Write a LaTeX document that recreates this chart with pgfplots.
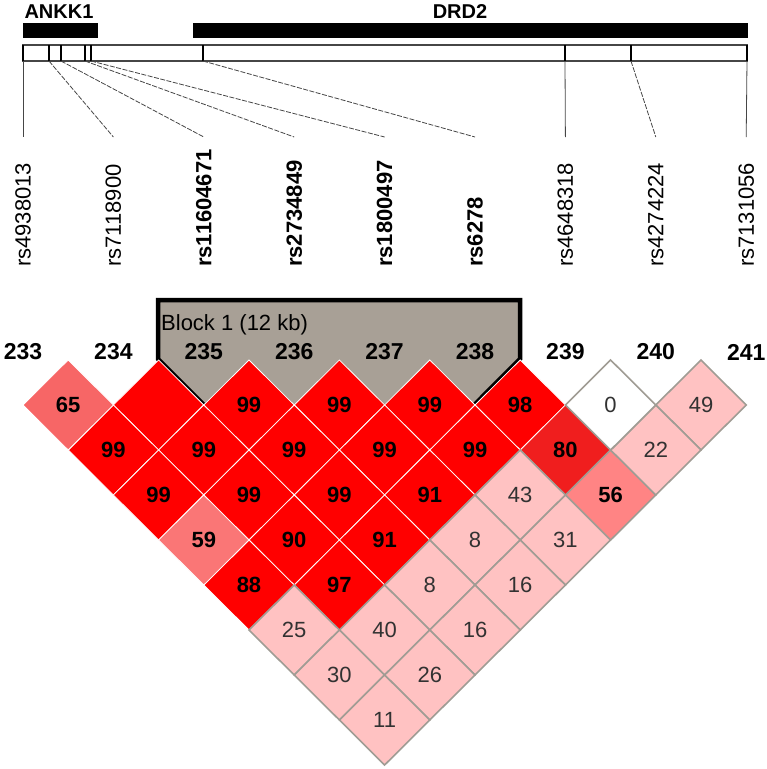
\documentclass[border=0pt]{standalone}
\usepackage{pgfplots}
\pgfplotsset{compat=1.18}
\usepackage{fontspec}
\setmainfont{Liberation Sans}
\definecolor{ldred}{RGB}{255,0,0}
\definecolor{ldeighty}{RGB}{240,30,30}
\definecolor{ldsixtyfive}{RGB}{247,102,102}
\definecolor{ldfiftynine}{RGB}{250,118,118}
\definecolor{ldfiftysix}{RGB}{255,132,132}
\definecolor{ldpink}{RGB}{255,194,194}
\definecolor{ldgrid}{RGB}{160,156,148}
\definecolor{blockfill}{RGB}{168,160,150}
\definecolor{txtgray}{RGB}{50,50,50}
\definecolor{linegray}{RGB}{70,70,70}

\pgfdeclareplotmark{ldd}{%
 \pgfpathmoveto{\pgfqpoint{0pt}{45pt}}%
 \pgfpathlineto{\pgfqpoint{45.2pt}{0pt}}%
 \pgfpathlineto{\pgfqpoint{0pt}{-45pt}}%
 \pgfpathlineto{\pgfqpoint{-45.2pt}{0pt}}%
 \pgfpathclose
 \pgfusepathqfillstroke}

\pgfplotsset{
 ldbold/.style={nodes near coords, point meta=explicit symbolic,
   every node near coord/.append style={anchor=center, inner sep=0pt, text=black,
   font=\bfseries\fontsize{22}{24}\selectfont}},
 ldnorm/.style={nodes near coords, point meta=explicit symbolic,
   every node near coord/.append style={anchor=center, inner sep=0pt, text=txtgray,
   font=\fontsize{22}{24}\selectfont}},
}
\tikzset{
 snp/.style={rotate=90, anchor=west, inner sep=0pt, text=black, font=\fontsize{22}{24}\selectfont},
 snpb/.style={snp, font=\bfseries\fontsize{22}{24}\selectfont},
 mk/.style={anchor=center, inner sep=0pt, font=\bfseries\fontsize{23}{25}\selectfont},
}

\begin{document}
\begin{tikzpicture}
\begin{axis}[width=767pt, height=769pt, scale only axis,
  xmin=0, xmax=767, ymin=0, ymax=769, y dir=reverse,
  hide axis, clip=false]
\path (axis cs:0,0) rectangle (axis cs:767,769);

% gene bars
\fill[black] (axis cs:23,23) rectangle (axis cs:98,38);
\fill[black] (axis cs:193,23) rectangle (axis cs:748,38);
\node[font=\bfseries\fontsize{20}{22}\selectfont, anchor=center] at (axis cs:59,12) {ANKK1};
\node[font=\bfseries\fontsize{20}{22}\selectfont, anchor=center] at (axis cs:460,12) {DRD2};

% chromosome box
\draw[linegray, line width=1.2pt] (axis cs:23,45) rectangle (axis cs:747,61);
\foreach \a in {23,49,61,85,91,203,565,631,747}{%
  \edef\tmp{\noexpand\draw[black, line width=2pt] (axis cs:\a,45) -- (axis cs:\a,61);}\tmp}
\foreach \a/\b in {23/23,565/565.4,747/746.2}{%
  \edef\tmp{\noexpand\draw[linegray, line width=0.8pt] (axis cs:\a,61) -- (axis cs:\b,137);}\tmp}
\foreach \a/\b in {49/113.4,61/203.8,85/294.2,91/384.6,203/475,631/655.8}{%
  \edef\tmp{\noexpand\draw[linegray, line width=0.8pt, dash pattern=on 5pt off 1.5pt] (axis cs:\a,61) -- (axis cs:\b,137);}\tmp}

% SNP names
\node[snp]  at (axis cs:23,267)    {rs4938013};
\node[snp]  at (axis cs:113.4,267) {rs7118900};
\node[snpb] at (axis cs:203.8,267) {rs11604671};
\node[snpb] at (axis cs:294.2,267) {rs2734849};
\node[snpb] at (axis cs:384.6,267) {rs1800497};
\node[snpb] at (axis cs:475,267)   {rs6278};
\node[snp]  at (axis cs:565.4,267) {rs4648318};
\node[snp]  at (axis cs:655.8,267) {rs4274224};
\node[snp]  at (axis cs:746.2,267) {rs7131056};

% block background
\fill[blockfill] (axis cs:158,300) -- (axis cs:520,300) -- (axis cs:520,359)
   -- (axis cs:339.4,540.4) -- (axis cs:158,359) -- cycle;
\node[anchor=base west, inner sep=0pt, font=\fontsize{22}{24}\selectfont] at (axis cs:161,330) {Block 1 (12 kb)};

% marker numbers
\node[mk] at (axis cs:23,352) {233};
\node[mk] at (axis cs:113.4,352) {234};
\node[mk] at (axis cs:203.8,352) {235};
\node[mk] at (axis cs:294.2,352) {236};
\node[mk] at (axis cs:384.6,352) {237};
\node[mk] at (axis cs:475,352) {238};
\node[mk] at (axis cs:565.4,352) {239};
\node[mk] at (axis cs:655.8,352) {240};
\node[mk] at (axis cs:746.2,352) {241};

% LD diamonds: D' = 1 (no number)
\addplot[only marks, mark=ldd, mark options={fill=ldred, draw=white, line width=0.8pt}]
 table[x expr={23+45.2*(\thisrow{i}+\thisrow{j})}, y expr={360+45*(\thisrow{j}-\thisrow{i})}] {
i j
1 2
};
% strong LD (red)
\addplot[only marks, mark=ldd, mark options={fill=ldred, draw=white, line width=0.8pt}, ldbold]
 table[x expr={23+45.2*(\thisrow{i}+\thisrow{j})}, y expr={360+45*(\thisrow{j}-\thisrow{i})}, meta=lab] {
i j lab
2 3 99
3 4 99
4 5 99
5 6 98
0 2 99
1 3 99
2 4 99
3 5 99
4 6 99
0 3 99
1 4 99
2 5 99
3 6 91
1 5 90
2 6 91
0 5 88
1 6 97
};
\addplot[only marks, mark=ldd, mark options={fill=ldeighty, draw=white, line width=0.8pt}, ldbold]
 table[x expr={23+45.2*(\thisrow{i}+\thisrow{j})}, y expr={360+45*(\thisrow{j}-\thisrow{i})}, meta=lab] {
i j lab
5 7 80
};
\addplot[only marks, mark=ldd, mark options={fill=ldsixtyfive, draw=white, line width=0.8pt}, ldbold]
 table[x expr={23+45.2*(\thisrow{i}+\thisrow{j})}, y expr={360+45*(\thisrow{j}-\thisrow{i})}, meta=lab] {
i j lab
0 1 65
};
\addplot[only marks, mark=ldd, mark options={fill=ldfiftynine, draw=white, line width=0.8pt}, ldbold]
 table[x expr={23+45.2*(\thisrow{i}+\thisrow{j})}, y expr={360+45*(\thisrow{j}-\thisrow{i})}, meta=lab] {
i j lab
0 4 59
};
\addplot[only marks, mark=ldd, mark options={fill=ldfiftysix, draw=ldgrid, line width=1.6pt}, ldbold]
 table[x expr={23+45.2*(\thisrow{i}+\thisrow{j})}, y expr={360+45*(\thisrow{j}-\thisrow{i})}, meta=lab] {
i j lab
5 8 56
};
% weak LD (pink)
\addplot[only marks, mark=ldd, mark options={fill=ldpink, draw=ldgrid, line width=1.6pt}, ldnorm]
 table[x expr={23+45.2*(\thisrow{i}+\thisrow{j})}, y expr={360+45*(\thisrow{j}-\thisrow{i})}, meta=lab] {
i j lab
7 8 49
6 8 22
4 7 43
3 7 8
4 8 31
2 7 8
3 8 16
0 6 25
1 7 40
2 8 16
0 7 30
1 8 26
0 8 11
};
\addplot[only marks, mark=ldd, mark options={fill=white, draw=ldgrid, line width=1.6pt}, ldnorm]
 table[x expr={23+45.2*(\thisrow{i}+\thisrow{j})}, y expr={360+45*(\thisrow{j}-\thisrow{i})}, meta=lab] {
i j lab
6 7 0
};

% block outline
\draw[black, line width=4.5pt, line join=miter] (axis cs:158,300) -- (axis cs:520,300) -- (axis cs:520,359)
   -- (axis cs:339.4,540.4) -- (axis cs:158,359) -- cycle;
\end{axis}
\end{tikzpicture}
\end{document}
